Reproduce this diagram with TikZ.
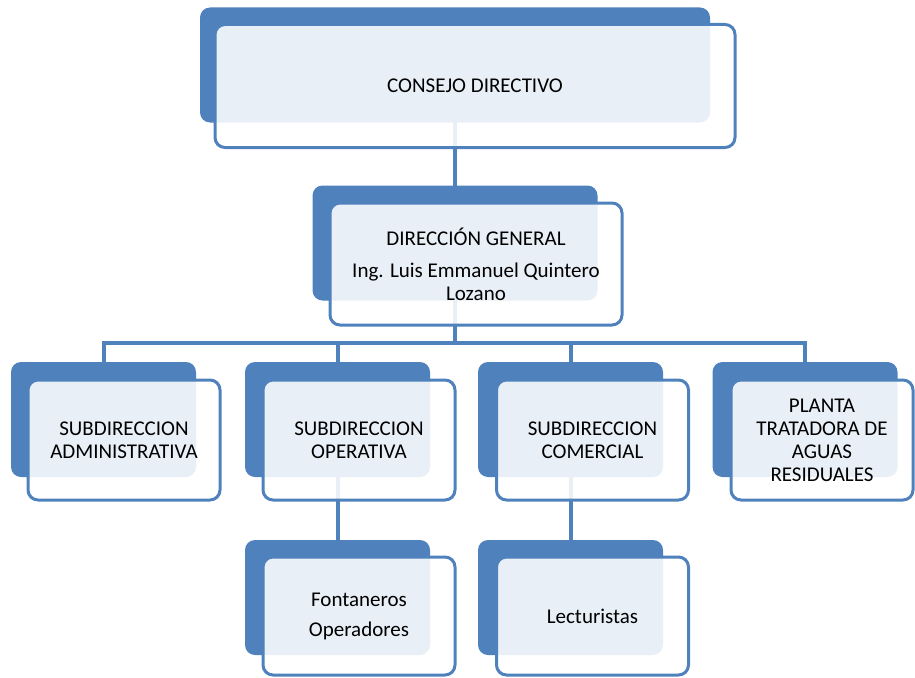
\documentclass[tikz,border=0pt]{standalone}
\usepackage{fontspec}
\setmainfont{Carlito}
\usepackage{xcolor}
\usetikzlibrary{backgrounds}
\definecolor{boxblue}{HTML}{4F81BD}

\begin{document}
\begin{tikzpicture}[x=1pt,y=-1pt,
    back/.style={
      rectangle,
      fill=boxblue,
      rounded corners=10pt,
      inner sep=0pt
    },
    front/.style={
      rectangle,
      draw=boxblue,
      line width=3pt,
      fill=white,
      fill opacity=0.88,
      text opacity=1,
      rounded corners=10pt,
      align=center,
      inner sep=2pt,
      font=\fontsize{21}{23}\selectfont
    },
    smallback/.style={back, minimum width=185pt, minimum height=115pt},
    smallfront/.style={front, minimum width=192pt, minimum height=120pt},
    link/.style={draw=boxblue, line width=4pt}]
  \useasboundingbox (0,0) rectangle (915,677);
  % consejo
  \node[back, minimum width=510pt, minimum height=115pt] (cd-b) at (455,65) {};
  \node[front, minimum width=520pt, minimum height=123pt] (cd) at (475,86) {CONSEJO DIRECTIVO};
  % direccion
  \node[back, minimum width=285pt, minimum height=115pt] (dg-b) at (455,243) {};
  \node[front, minimum width=292pt, minimum height=122pt] (dg) at (476,264)
    {DIRECCIÓN GENERAL\\[9pt]Ing. Luis Emmanuel Quintero\\Lozano};
  % subdirecciones
  \node[smallback] (sa-b) at (103.5,419.5) {};
  \node[smallfront] (sa) at (124,440) {SUBDIRECCION\\ADMINISTRATIVA};
  \node[smallback] (so-b) at (337.5,419.5) {};
  \node[smallfront] (so) at (359,440) {SUBDIRECCION\\OPERATIVA};
  \node[smallback] (sc-b) at (570.5,419.5) {};
  \node[smallfront] (sc) at (592.5,440) {SUBDIRECCION\\COMERCIAL};
  \node[smallback] (pt-b) at (805,419.5) {};
  \node[smallfront, minimum width=182pt] (pt) at (822,440)
    {PLANTA\\TRATADORA DE\\AGUAS\\RESIDUALES};
  % personal
  \node[smallback] (fo-b) at (337.5,597.5) {};
  \node[smallfront, minimum height=118pt] (fo) at (359,616) {Fontaneros\\[7pt]Operadores};
  \node[smallback] (le-b) at (570.5,597.5) {};
  \node[smallfront, minimum height=118pt] (le) at (592.5,616) {Lecturistas};

  \coordinate (bus) at (455,343);
  \begin{scope}[on background layer]
    \draw[link] (cd-b.center) -- (dg-b.center);
    \draw[link] (dg-b.center) -- (bus);
    \foreach \n in {sa,so,sc,pt}
      \draw[link] (\n-b.center) |- (bus);
    \draw[link] (so-b.center) -- (fo-b.center);
    \draw[link] (sc-b.center) -- (le-b.center);
  \end{scope}
\end{tikzpicture}
\end{document}
